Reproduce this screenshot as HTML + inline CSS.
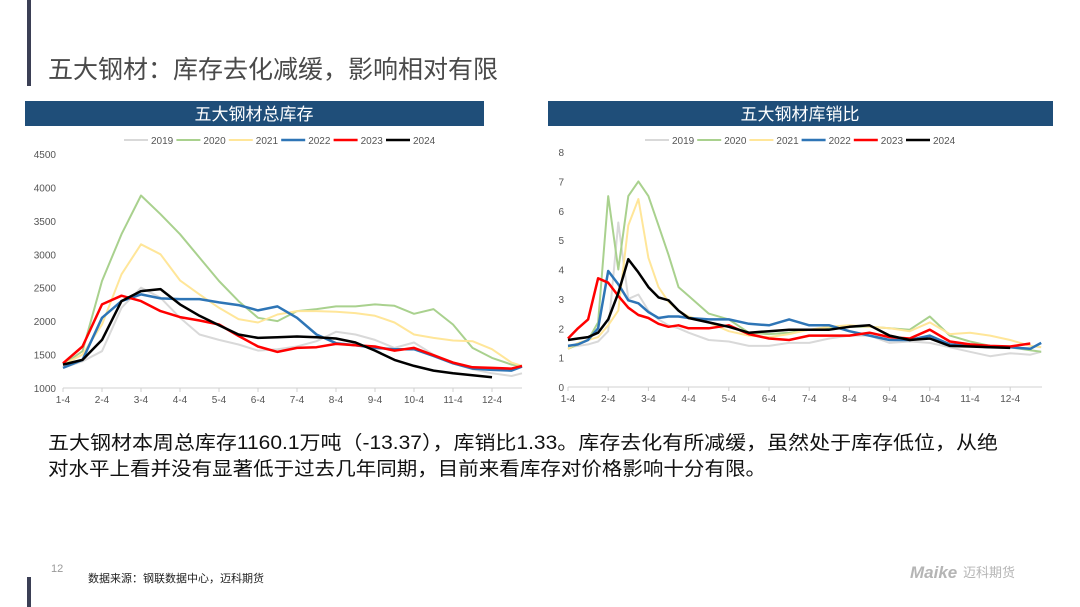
<!DOCTYPE html>
<html><head><meta charset="utf-8">
<style>
html,body{margin:0;padding:0;background:#fff;}
svg{display:block;font-family:"Liberation Sans","Noto Sans CJK SC",sans-serif;}
</style></head>
<body>
<svg id="page" width="1080" height="607" viewBox="0 0 1080 607">
  <rect x="27" y="0" width="4" height="86" fill="#3b3f55"/>
  <text x="48" y="78" font-size="25" fill="#4a4a4a" font-family="'Liberation Sans','Noto Sans CJK SC',sans-serif">五大钢材：库存去化减缓，影响相对有限</text>

  <rect x="25" y="101" width="459" height="25" fill="#1f4e79"/>
  <text x="254" y="120" font-size="17" fill="#fff" text-anchor="middle">五大钢材总库存</text>
  <rect x="548" y="101" width="505" height="25" fill="#1f4e79"/>
  <text x="800" y="120" font-size="17" fill="#fff" text-anchor="middle">五大钢材库销比</text>

  <g id="leftChart"></g>
  <g id="rightChart"></g>

  <text x="48" y="449" font-size="19" fill="#111" textLength="950" lengthAdjust="spacingAndGlyphs">五大钢材本周总库存1160.1万吨（-13.37），库销比1.33。库存去化有所减缓，虽然处于库存低位，从绝</text>
  <text x="48" y="475" font-size="19" fill="#111" textLength="718" lengthAdjust="spacingAndGlyphs">对水平上看并没有显著低于过去几年同期，目前来看库存对价格影响十分有限。</text>

  <text x="51" y="572" font-size="11" fill="#999">12</text>
  <rect x="27" y="577" width="4" height="30" fill="#3b3f55"/>
  <text x="88" y="582" font-size="11" fill="#222">数据来源：钢联数据中心，迈科期货</text>
  <text x="910" y="578" font-size="17" font-weight="bold" font-style="italic" fill="#b5b5b5">Maike</text>
  <text x="963" y="577" font-size="13" fill="#b5b5b5">迈科期货</text>
</svg>
<script>
const NS='http://www.w3.org/2000/svg';
const years=['2019','2020','2021','2022','2023','2024'];
const colors=['#d9d9d9','#a9d18e','#ffe699','#2e75b6','#ff0000','#000000'];
const widths=[2,2,2,2.5,2.5,2.5];
const monthLabels=['1-4','2-4','3-4','4-4','5-4','6-4','7-4','8-4','9-4','10-4','11-4','12-4'];

// Left chart: total inventory (10k tons)
const invMonths=[0,0.5,1,1.5,2,2.5,3,3.5,4,4.5,5,5.5,6,6.5,7,7.5,8,8.5,9,9.5,10,10.5,11,11.5,11.77];
const inv2019=[1300,1400,1550,2200,2500,2350,2050,1800,1720,1650,1560,1580,1620,1700,1840,1800,1720,1600,1680,1500,1370,1280,1220,1180,1220];
const inv2020=[1350,1550,2600,3300,3880,3600,3300,2950,2600,2300,2050,2000,2150,2180,2220,2220,2250,2230,2110,2180,1950,1600,1450,1350,1330];
const inv2021=[1350,1500,1950,2700,3150,3000,2610,2400,2200,2030,1980,2100,2150,2150,2140,2120,2080,1980,1800,1750,1710,1700,1580,1380,1330];
const inv2022=[1300,1420,2050,2300,2400,2340,2330,2330,2280,2240,2160,2220,2050,1800,1670,1640,1600,1580,1580,1480,1370,1290,1270,1260,1320];
const inv2023=[1370,1620,2250,2380,2300,2150,2060,2010,1950,1780,1620,1540,1600,1610,1660,1640,1620,1560,1600,1490,1380,1310,1300,1290,1330];
const inv2024=[1350,1420,1720,2300,2450,2480,2250,2080,1940,1800,1750,1760,1770,1760,1740,1680,1560,1420,1330,1260,1220,1190,1160,null,null];
const invTicks=[1000,1500,2000,2500,3000,3500,4000,4500];

// Right chart: inventory/sales ratio
const ratioMonths=[0,0.25,0.5,0.75,1,1.25,1.5,1.75,2,2.25,2.5,2.75,3,3.5,4,4.5,5,5.5,6,6.5,7,7.5,8,8.5,9,9.5,10,10.5,11,11.5,11.77];
const ratio2019=[1.35,1.4,1.45,1.55,1.9,5.6,3.0,3.15,2.6,2.3,2.1,2.0,1.85,1.6,1.55,1.4,1.4,1.5,1.5,1.65,1.75,1.75,1.5,1.55,1.5,1.35,1.2,1.05,1.15,1.1,1.2];
const ratio2020=[1.3,1.45,1.6,2.2,6.5,4.0,6.5,7.0,6.5,5.5,4.5,3.4,3.1,2.5,2.3,1.85,1.8,1.85,1.95,2.0,2.05,2.05,2.0,1.95,2.4,1.75,1.55,1.4,1.35,1.25,1.2];
const ratio2021=[1.3,1.5,1.6,1.7,2.1,2.6,5.5,6.4,4.4,3.4,2.9,2.6,2.4,2.2,1.9,1.75,1.7,1.8,1.95,2.05,2.1,2.05,2.0,1.9,2.2,1.8,1.85,1.75,1.6,1.4,1.35];
const ratio2022=[1.4,1.45,1.6,2.0,3.95,3.5,2.95,2.85,2.55,2.35,2.4,2.4,2.35,2.3,2.3,2.15,2.1,2.3,2.1,2.1,1.9,1.75,1.6,1.6,1.75,1.45,1.4,1.35,1.35,1.3,1.5];
const ratio2023=[1.65,2.0,2.3,3.7,3.55,3.1,2.7,2.45,2.35,2.15,2.05,2.1,2.0,2.0,2.1,1.8,1.65,1.6,1.75,1.75,1.75,1.85,1.7,1.65,1.95,1.55,1.45,1.4,1.38,1.48,null];
const ratio2024=[1.6,1.65,1.7,1.85,2.3,3.2,4.35,3.9,3.4,3.05,2.95,2.6,2.35,2.2,2.05,1.85,1.9,1.95,1.95,1.95,2.05,2.1,1.75,1.6,1.65,1.4,1.38,1.35,1.33,null,null];
const ratioTicks=[0,1,2,3,4,5,6,7,8];

function mk(tag,attrs,parent){const e=document.createElementNS(NS,tag);for(const k in attrs)e.setAttribute(k,attrs[k]);parent.appendChild(e);return e;}

function drawChart(g,cfg){
  const xs=m=>cfg.x0+m*cfg.dx;
  const ys=v=>cfg.yBot-(v-cfg.vmin)/(cfg.vmax-cfg.vmin)*(cfg.yBot-cfg.yTop);
  // axis
  const ax=mk('line',{x1:cfg.x0,x2:cfg.xEnd,y1:cfg.yBot,y2:cfg.yBot,stroke:'#d0d0d0','stroke-width':1},g);
  
  
  cfg.ticks.forEach(t=>{
    const tx=mk('text',{x:cfg.yLabelX,y:ys(t)+4,'font-size':10,fill:'#555','text-anchor':'end'},g);
    tx.textContent=t;
    
    
  });
  monthLabels.forEach((l,i)=>{
    const tk=mk('line',{x1:xs(i),x2:xs(i),y1:cfg.yBot,y2:cfg.yBot+4,stroke:'#d0d0d0'},g);
    
    
    const tx=mk('text',{x:xs(i),y:cfg.yBot+15,'font-size':10,fill:'#555','text-anchor':'middle'},g);
    tx.textContent=l;
    
    
  });
  cfg.series.forEach((s,i)=>{
    let d='';let pen=false;
    s.forEach((v,j)=>{
      if(v===null){pen=false;return;}
      d+=(pen?'L':'M')+xs(cfg.months[j]).toFixed(1)+','+ys(v).toFixed(1);pen=true;
    });
    const p=mk('path',{d:d,fill:'none',stroke:colors[i],'stroke-width':widths[i],'stroke-linejoin':'round'},g);
    
    
  });
  years.forEach((y,i)=>{
    const tx0=cfg.legendX+i*cfg.legendDx;
    const ln=mk('line',{x1:tx0-27,x2:tx0-3,y1:cfg.legendY-4,y2:cfg.legendY-4,stroke:colors[i],'stroke-width':widths[i]},g);
    
    
    const t=mk('text',{x:tx0,y:cfg.legendY,'font-size':10,fill:'#555'},g);
    t.textContent=y;
    
    
  });
}

drawChart(document.getElementById('leftChart'),{
  x0:63,dx:39,xEnd:522,yTop:154,yBot:388,vmin:1000,vmax:4500,yLabelX:56,
  ticks:invTicks,months:invMonths,
  series:[inv2019,inv2020,inv2021,inv2022,inv2023,inv2024],
  legendX:151,legendDx:52.4,legendY:144
});
drawChart(document.getElementById('rightChart'),{
  x0:568,dx:40.2,xEnd:1042,yTop:152,yBot:387,vmin:0,vmax:8,yLabelX:564,
  ticks:ratioTicks,months:ratioMonths,
  series:[ratio2019,ratio2020,ratio2021,ratio2022,ratio2023,ratio2024],
  legendX:672,legendDx:52.2,legendY:144
});
</script>
</body></html>
